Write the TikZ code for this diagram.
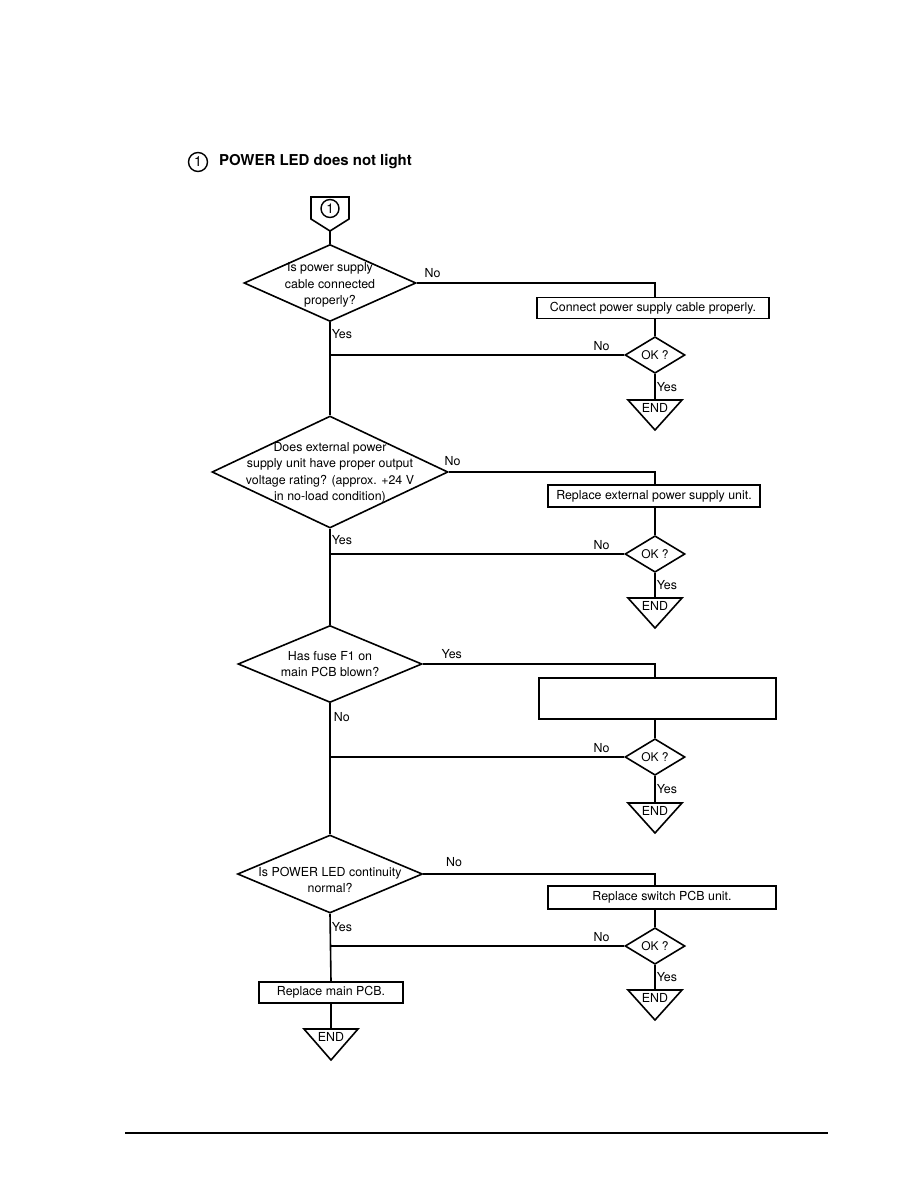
\documentclass[tikz,border=0pt]{standalone}
\usepackage{fontspec}
\setmainfont{TeX Gyre Heros}
\usetikzlibrary{shapes.geometric, positioning}

\newcommand{\fsz}[1]{\fontsize{#1}{16.5}\selectfont}

\tikzset{
  decision/.style={diamond, draw, line width=1.6pt, inner sep=0pt},
  okdec/.style={decision, minimum width=60pt, minimum height=34pt, font=\fsz{12}},
  action/.style={rectangle, draw, line width=1.6pt, inner sep=0pt, font=\fsz{12.4}},
  qtext/.style={align=center, inner sep=0pt, font=\fsz{12.4}},
  lbl/.style={inner sep=1pt, font=\fsz{12.4}},
  numring/.style={circle, draw, line width=1.4pt, inner sep=0pt}
}

\begin{document}
\begin{tikzpicture}[x=1pt, y=-1pt, line width=1.6pt]
  \useasboundingbox (0,0) rectangle (918,1188);
  % ── Heading ───────────────────────────────────────────────────
  \node[numring, minimum size=19pt, font=\fsz{14}] (hnum) at (198,162) {1};
  \node[right=10pt of hnum, inner sep=0pt, font=\bfseries\fsz{15}] (htitle) {POWER LED does not light};
  % ── Start marker ──────────────────────────────────────────────
  \coordinate (st) at (330,231);
  \draw (311,197) -- (349,197) -- (349,219) -- (st) -- (311,219) -- cycle;
  \node[numring, minimum size=18pt, font=\fsz{13.5}] (snum) at (330,208.5) {1};
  % ── Main questions ────────────────────────────────────────────
  \node[decision, minimum width=172pt, minimum height=77pt] (q1) at (330,283) {};
  \node[qtext, yshift=-2pt] (q1t) at (q1) {Is power supply\\cable connected\\properly?};
  \node[decision, minimum width=236pt, minimum height=112pt] (q2) at (330,472) {};
  \node[qtext, yshift=-1pt] (q2t) at (q2) {Does external power\\supply unit have proper output\\voltage rating? (approx. +24 V\\in no-load condition)};
  \node[decision, minimum width=184pt, minimum height=77pt] (q3) at (330,664) {};
  \node[qtext] (q3t) at (q3) {Has fuse F1 on\\main PCB blown?};
  \node[decision, minimum width=185pt, minimum height=78pt] (q4) at (330,874) {};
  \node[qtext, yshift=-6pt] (q4t) at (q4) {Is POWER LED continuity\\normal?};
  % ── Repair boxes ──────────────────────────────────────────────
  \node[action, minimum width=232pt, minimum height=21pt] (b1) at (653,308) {Connect power supply cable properly.};
  \node[action, minimum width=212pt, minimum height=22pt] (b2) at (654,496) {Replace external power supply unit.};
  \node[action, minimum width=237pt, minimum height=41pt] (b3) at (657.5,698.5) {};
  \node[action, minimum width=228pt, minimum height=23pt] (b4) at (662,897.5) {Replace switch PCB unit.};
  \node[action, minimum width=144pt, minimum height=21pt] (bm) at (331,992.5) {Replace main PCB.};
  % ── OK checks with END marks ──────────────────────────────────
  \foreach \i/\oy/\ey in {1/355/400, 2/554/598, 3/757/803, 4/946/990} {
    \node[okdec] (ok\i) at (655,\oy) {OK ?};
    \coordinate (e\i) at (655,\ey);
    \draw (e\i) ++(-27,0) -- ++(54,0) -- ++(-27,30) -- cycle;
    \node[lbl, below=2pt of e\i] (end\i) {END};
    \draw (ok\i.south) -- node[lbl, right] (oy\i) {Yes} (e\i);
    \draw (ok\i.west) -- (ok\i.west -| q1.south);
    \node[lbl, above left=3pt and 13pt of ok\i.west] (on\i) {No};
  }
  \coordinate (em) at (331,1029);
  \draw (em) ++(-27,0) -- ++(54,0) -- ++(-27,31) -- cycle;
  \node[lbl, below=2pt of em] (endm) {END};
  % ── Trunk ─────────────────────────────────────────────────────
  \draw (st) -- (q1.north);
  \draw (q1.south) -- (q2.north);
  \draw (q2.south) -- (q3.north);
  \draw (q3.south) -- (q4.north);
  \draw (q4.south) -- (bm.north);
  \draw (bm.south) -- (em);
  \node[lbl, below right=5pt and 0pt of q1.south] (ty1) {Yes};
  \node[lbl, below right=5pt and 0pt of q2.south] (ty2) {Yes};
  \node[lbl, below right=7pt and 2pt of q3.south] (tn3) {No};
  \node[lbl, below right=7pt and 0pt of q4.south] (ty4) {Yes};
  % ── Branches to the right ─────────────────────────────────────
  \draw (q1.east) -| (b1.north -| ok1);
  \draw (q2.east) -| (b2.north -| ok2);
  \draw (q3.east) -| (b3.north -| ok3);
  \draw (q4.east) -| (b4.north -| ok4);
  \foreach \i in {1,...,4}
    \draw (b\i.south -| ok\i) -- (ok\i.north);
  \node[lbl, above right=4pt and 6pt of q1.east] (bn1) {No};
  \node[lbl, above right=5pt and -6pt of q2.east] (bn2) {No};
  \node[lbl, above right=4pt and 17pt of q3.east] (by3) {Yes};
  \node[lbl, above right=6pt and 21pt of q4.east] (bn4) {No};
  % ── Page rule ─────────────────────────────────────────────────
  \draw[line width=1.3pt] (125,1133) -- (828,1133);
\end{tikzpicture}
\end{document}
